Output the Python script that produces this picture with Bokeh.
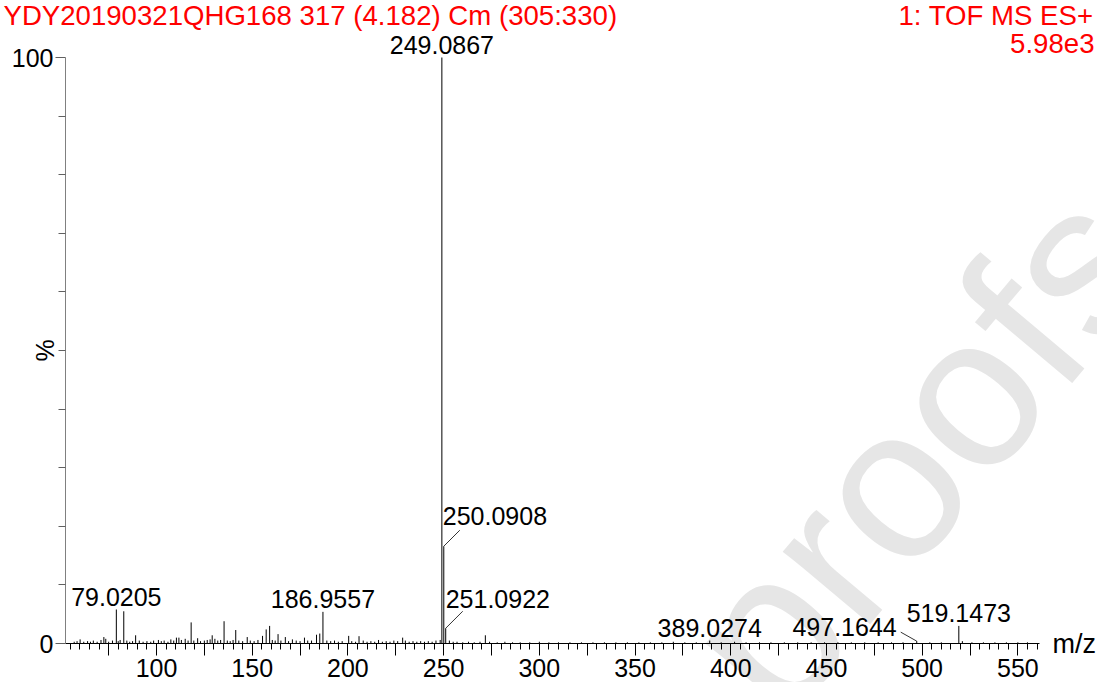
import math
from bokeh.plotting import figure
from bokeh.models import ColumnDataSource, FixedTicker, Label, Range1d
from bokeh.embed import file_html
from bokeh.resources import INLINE

# ---------------- data ----------------
# labelled peaks (m/z, relative intensity %)
label_mz = [79.0205, 186.9557, 249.0867, 250.0908, 251.0922, 389.0274, 497.1644, 519.1473]
label_int = [5.8, 5.4, 100.0, 16.6, 2.6, 0.5, 0.4, 3.0]
label_txt = ["79.0205", "186.9557", "249.0867", "250.0908", "251.0922",
             "389.0274", "497.1644", "519.1473"]

# other (unlabelled) peaks
other_mz = [57.0, 58.5, 60.1, 62.0, 64.0, 65.5, 67.0, 69.0, 71.0, 72.5, 73.5, 75.0, 77.0,
            80.0, 81.0, 82.9, 84.5, 86.0, 87.5, 89.1, 91.0, 93.0, 95.0, 97.0, 98.5,
            101.0, 102.5, 104.0, 106.0, 107.5, 109.0, 110.4, 111.7, 113.0, 115.0, 116.5,
            118.1, 119.5, 121.5, 123.0, 125.0, 126.5, 128.0, 129.1, 130.5, 132.0, 133.5,
            135.3, 137.0, 138.5, 140.0, 141.4, 143.0, 145.0, 147.4, 149.0, 151.0, 153.0,
            155.4, 157.3, 159.1, 160.5, 162.0, 163.5, 165.0, 167.3, 169.0, 171.0, 173.0,
            175.0, 177.3, 179.0, 181.0, 183.6, 185.3, 189.0, 191.0, 193.0, 195.0, 197.0,
            200.4, 202.0, 204.0, 205.8, 208.0, 210.0, 212.0, 214.0, 216.0, 218.0, 220.0,
            222.0, 224.0, 226.0, 228.6, 230.0, 232.0, 234.0, 236.0, 238.0, 240.0, 242.0,
            244.0, 246.0, 248.2, 253.0, 255.0, 257.0, 260.0, 263.0, 266.0, 269.0, 271.8,
            274.0, 278.0, 282.0, 286.0, 290.0, 295.0, 300.0, 305.0, 310.0, 316.0, 322.0,
            328.0, 334.0, 340.0, 346.0, 352.0, 358.0, 364.0, 370.0, 376.0, 382.0, 395.0,
            402.0, 408.0, 415.0, 421.0, 428.0, 435.0, 442.0, 449.0, 456.0, 463.0, 470.0,
            477.0, 484.0, 490.0, 504.0, 510.0, 521.0, 526.0, 532.0, 538.0, 544.0, 550.0,
            555.0]
other_int = [0.3, 0.4, 0.7, 0.3, 0.4, 0.3, 0.5, 0.3, 0.6, 1.1, 0.8, 0.3, 0.5,
             0.4, 0.6, 5.5, 0.5, 0.3, 0.4, 1.4, 0.5, 0.3, 0.4, 0.3, 0.5,
             0.6, 0.4, 0.5, 0.3, 0.7, 0.5, 1.0, 1.0, 0.6, 0.8, 0.5,
             3.6, 0.5, 0.9, 0.4, 0.5, 0.6, 0.7, 1.4, 0.8, 0.5, 0.6,
             3.8, 0.5, 0.4, 0.6, 2.3, 0.5, 0.4, 1.1, 0.5, 0.4, 0.6,
             1.3, 2.4, 3.0, 0.6, 0.5, 1.6, 0.5, 1.1, 0.4, 0.7, 0.5,
             0.4, 1.0, 0.5, 0.5, 1.5, 1.7, 0.5, 0.4, 0.5, 0.3, 0.4,
             1.3, 0.4, 0.3, 1.25, 0.5, 0.3, 0.4, 0.3, 0.6, 0.3, 0.4,
             0.3, 0.5, 0.4, 1.0, 0.5, 0.3, 0.4, 0.3, 0.4, 0.3, 0.4,
             0.3, 0.5, 0.6, 0.5, 0.3, 0.3, 0.2, 0.3, 0.2, 0.3, 1.4,
             0.3, 0.2, 0.3, 0.2, 0.2, 0.2, 0.3, 0.2, 0.2, 0.2, 0.2,
             0.2, 0.2, 0.2, 0.2, 0.2, 0.2, 0.2, 0.3, 0.2, 0.2, 0.2,
             0.3, 0.2, 0.2, 0.2, 0.2, 0.2, 0.2, 0.2, 0.2, 0.2, 0.2,
             0.2, 0.2, 0.2, 0.2, 0.2, 0.4, 0.2, 0.2, 0.2, 0.2, 0.2,
             0.2]

x_major_ticks = [75, 100, 125, 150, 175, 200, 225, 250, 275, 300, 325, 350, 375,
                 400, 425, 450, 475, 500, 525, 550]
x_labelled_ticks = [100, 150, 200, 250, 300, 350, 400, 450, 500, 550]
y_ticks = [0, 100]
y_minor = [10, 20, 30, 40, 50, 60, 70, 80, 90]

title_left = "YDY20190321QHG168 317 (4.182) Cm (305:330)"
title_right = "1: TOF MS ES+"
scale_txt = "5.98e3"
x_title = "m/z"
y_title = "%"
watermark = "proofs"

# ---------------- layout / style ----------------
W, H = 1097, 682
FONT = "Liberation Sans"
RED = "#ff0000"

# pixel geometry of the data area inside the canvas
AX_LEFT_PX, AX_RIGHT_PX = 65, 1039      # canvas x of y-axis and of x-axis end
Y100_PX, Y0_PX = 57, 643                # canvas y of 100 % and 0 %
XA0, XA1 = 52.46, 561.3                 # m/z at the axis ends

SX = (AX_RIGHT_PX - AX_LEFT_PX) / (XA1 - XA0)
SY = (Y0_PX - Y100_PX) / 100.0
XR0 = XA0 - AX_LEFT_PX / SX
XR1 = XR0 + W / SX
YR1 = 100 + Y100_PX / SY
YR0 = YR1 - H / SY


def px_x(px):
    return XR0 + px / SX


def px_y(py):
    return YR1 - py / SY


p = figure(width=W, height=H, output_backend="svg", toolbar_location=None,
           x_range=Range1d(XR0, XR1), y_range=Range1d(YR0, YR1),
           min_border=0, min_border_left=0, min_border_right=0,
           min_border_top=0, min_border_bottom=0,
           background_fill_color="white", border_fill_color="white")
p.title.visible = False
p.outline_line_color = None
p.xgrid.visible = False
p.ygrid.visible = False

# x axis
xa = p.xaxis[0]
minor_x = [m for m in range(55, 565, 5) if m not in x_major_ticks]
xa.ticker = FixedTicker(ticks=x_major_ticks, minor_ticks=minor_x)
xa.major_label_overrides = {t: (str(t) if t in x_labelled_ticks else "") for t in x_major_ticks}
xa.fixed_location = 0
xa.bounds = (XA0, XA1)
xa.axis_line_color = "black"
xa.axis_line_width = 1
xa.major_tick_line_color = "black"
xa.minor_tick_line_color = "black"
xa.major_tick_out = 12
xa.major_tick_in = 0
xa.minor_tick_out = 6
xa.minor_tick_in = 0
xa.major_label_standoff = 3
xa.major_label_text_font = FONT
xa.major_label_text_font_size = "25px"
xa.major_label_text_color = "black"

# y axis
ya = p.yaxis[0]
ya.ticker = FixedTicker(ticks=y_ticks, minor_ticks=y_minor)
ya.fixed_location = XA0
ya.bounds = (0, 100)
ya.axis_line_color = "#808080"
ya.axis_line_width = 1
ya.major_tick_line_color = "#606060"
ya.minor_tick_line_color = "#606060"
ya.major_tick_out = 10
ya.major_tick_in = 0
ya.minor_tick_out = 7
ya.minor_tick_in = 0
ya.major_label_standoff = 2
ya.major_label_text_font = FONT
ya.major_label_text_font_size = "25px"
ya.major_label_text_color = "black"

# watermark (behind everything)
p.add_layout(Label(x=px_x(918), y=px_y(450), text=watermark, text_font=FONT,
                   text_font_size="215px", text_color="#e6e6e6", angle=math.radians(50),
                   text_align="center", text_baseline="middle", level="underlay"))

# peaks
src_o = ColumnDataSource(dict(x=other_mz, top=other_int, bottom=[0] * len(other_mz)))
p.segment(x0="x", y0="bottom", x1="x", y1="top", source=src_o, line_color="black", line_width=1)
src_l = ColumnDataSource(dict(x=label_mz, top=label_int, bottom=[0] * len(label_mz)))
p.segment(x0="x", y0="bottom", x1="x", y1="top", source=src_l, line_color="black", line_width=1)

# peak labels: default centred above peak; some displaced with leader lines
# style per label text: (align, x_offset px, y_offset px, leader dx px, leader dy px)
label_style = {
    "250.0908": ("left", -1, 30, 16, 16),
    "251.0922": ("left", 0, 29, 17, 17),
    "497.1644": ("right", -20, 14, -16, 9),
}
lx0, ly0, lx1, ly1 = [], [], [], []
for mz, it, t in zip(label_mz, label_int, label_txt):
    align, xo, yo, ldx, ldy = label_style.get(t, ("center", 0, 13, 0, 0))
    p.add_layout(Label(x=mz, y=it, text=t, text_font=FONT, text_font_size="25px",
                       text_color="black", text_align=align, text_baseline="alphabetic",
                       x_offset=xo, y_offset=yo))
    if ldx or ldy:
        lx0.append(mz); ly0.append(it)
        lx1.append(mz + ldx / SX); ly1.append(it + ldy / SY)
p.segment(x0=lx0, y0=ly0, x1=lx1, y1=ly1, line_color="black", line_width=0.8)

# titles and axis titles
p.add_layout(Label(x=px_x(3), y=px_y(15), text=title_left,
                   text_font=FONT, text_font_size="27.6px", text_color=RED,
                   text_align="left", text_baseline="middle"))
p.add_layout(Label(x=px_x(1093), y=px_y(15), text=title_right,
                   text_font=FONT, text_font_size="27.6px", text_color=RED,
                   text_align="right", text_baseline="middle"))
p.add_layout(Label(x=px_x(1094), y=px_y(43), text=scale_txt,
                   text_font=FONT, text_font_size="27.6px", text_color=RED,
                   text_align="right", text_baseline="middle"))
p.add_layout(Label(x=px_x(44), y=50, text=y_title, angle=math.pi / 2,
                   text_font=FONT, text_font_size="25px", text_color="black",
                   text_align="center", text_baseline="middle"))
p.add_layout(Label(x=px_x(1052), y=0, text=x_title,
                   text_font=FONT, text_font_size="27px", text_color="black",
                   text_align="left", text_baseline="middle"))

open("out.html", "w").write(file_html(p, INLINE))
